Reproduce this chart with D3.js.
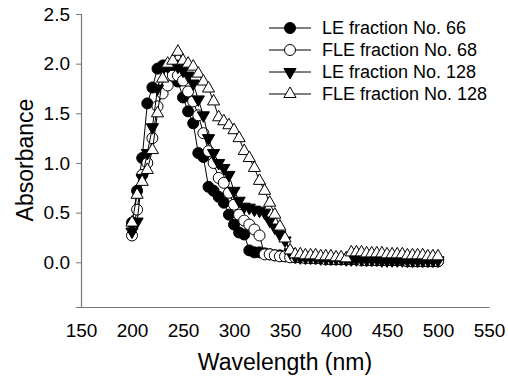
<!DOCTYPE html>
<html>
<head>
<meta charset="utf-8">
<script src="https://cdn.jsdelivr.net/npm/d3@7"></script>
<style>
	body { margin: 0; background: #fff; }
	text { font-family: "Liberation Sans", Arial, sans-serif; fill: #000; }
</style>
</head>
<body>
<div id="chart"></div>
<script>
var wavelength = [200,205,210,215,220,225,230,235,240,245,250,255,260,265,270,275,280,285,290,295,
	300,305,310,315,320,325,330,335,340,345,350,355,360,365,370,375,380,385,390,395,
	400,405,410,415,420,425,430,435,440,445,450,455,460,465,470,475,480,485,490,495,500];

var le66 = [0.40,0.72,1.05,1.60,1.76,1.95,1.98,1.97,1.92,1.82,1.66,1.52,1.40,1.10,1.06,0.76,0.72,0.66,0.60,0.48,
	0.38,0.30,0.28,0.12,0.10,0.10,0.09,0.08,0.07,0.07,0.06,0.06,0.05,0.05,0.05,0.05,0.04,0.04,0.04,0.04,
	0.03,0.03,0.03,0.03,0.03,0.03,0.02,0.02,0.02,0.02,0.02,0.02,0.02,0.02,0.01,0.01,0.01,0.01,0.01,0.01,0.01];

var fle68 = [0.27,0.53,0.88,1.00,1.25,1.57,1.70,1.78,1.88,1.88,1.83,1.72,1.62,1.48,1.30,1.12,1.00,0.85,0.80,0.70,
	0.58,0.48,0.42,0.38,0.33,0.27,0.08,0.08,0.07,0.06,0.06,0.05,0.05,0.05,0.04,0.04,0.04,0.04,0.03,0.03,
	0.03,0.03,0.03,0.03,0.03,0.02,0.02,0.02,0.02,0.02,0.02,0.02,0.02,0.02,0.01,0.01,0.01,0.01,0.01,0.01,0.01];

var le128 = [0.31,0.41,0.85,1.10,1.36,1.75,1.95,2.00,2.00,1.97,1.93,1.88,1.80,1.64,1.48,1.25,1.10,1.00,0.95,0.88,
	0.72,0.62,0.56,0.55,0.53,0.52,0.50,0.42,0.35,0.28,0.22,0.10,0.06,0.05,0.05,0.05,0.05,0.04,0.04,0.04,
	0.04,0.04,0.03,0.03,0.03,0.03,0.03,0.03,0.03,0.02,0.02,0.02,0.02,0.02,0.02,0.02,0.02,0.02,0.02,0.02,0.02];

var fle128 = [0.40,0.68,0.81,0.93,1.13,1.50,1.85,2.00,2.03,2.12,2.03,2.00,1.97,1.90,1.82,1.75,1.62,1.46,1.42,1.38,
	1.33,1.25,1.12,1.05,0.95,0.82,0.72,0.60,0.48,0.36,0.24,0.12,0.08,0.08,0.07,0.07,0.07,0.06,0.06,0.06,
	0.05,0.05,0.04,0.10,0.10,0.10,0.09,0.09,0.09,0.09,0.08,0.08,0.08,0.08,0.07,0.07,0.07,0.07,0.06,0.06,0.06];

var seriesNames = ["LE fraction No. 66", "FLE fraction No. 68", "LE fraction No. 128", "FLE fraction No. 128"];
var seriesValues = [le66, fle68, le128, fle128];
var xTicks = [150,200,250,300,350,400,450,500,550];
var yTicks = [0,0.5,1.0,1.5,2.0,2.5];

var markers = [
	{type: "circle", fill: "#000"},
	{type: "circle", fill: "#fff"},
	{type: "down", fill: "#000"},
	{type: "up", fill: "#fff"}
];

var svg = d3.select("#chart")
	.append("svg")
	.attr("width", 508)
	.attr("height", 379);

var x = d3.scaleLinear().domain([150, 550]).range([81, 489]);
var y = d3.scaleLinear().domain([-0.45, 2.5]).range([307, 14]);

// axes
var xAxis = svg.append("g")
	.attr("transform", "translate(0,307)")
	.call(d3.axisBottom(x).tickValues(xTicks).tickSize(0).tickFormat(d3.format("d")));

xAxis.selectAll("text")
	.attr("y", 30)
	.attr("dy", 0)
	.style("font-size", "19px");

var yAxis = svg.append("g")
	.attr("transform", "translate(81,0)")
	.call(d3.axisLeft(y).tickValues(yTicks).tickSize(5).tickPadding(6).tickFormat(d3.format(".1f")));

yAxis.selectAll("text").style("font-size", "19px");

svg.selectAll(".domain").attr("stroke", "#777").attr("stroke-width", 1.2);
svg.selectAll(".tick line").attr("stroke", "#777");
svg.selectAll(".tick text").attr("font-family", null);

svg.append("text")
	.text("Wavelength (nm)")
	.attr("x", 285)
	.attr("y", 370)
	.attr("text-anchor", "middle")
	.style("font-size", "23px");

svg.append("text")
	.text("Absorbance")
	.attr("transform", "translate(33,160) rotate(-90)")
	.attr("text-anchor", "middle")
	.style("font-size", "23px");

function drawMarker(g, m) {
	if (m.type == "circle") {
		g.append("circle")
			.attr("r", 5.5)
			.attr("fill", m.fill)
			.attr("stroke", "#000")
			.attr("stroke-width", 1);
	} else {
		g.append("path")
			.attr("d", d3.symbol().type(d3.symbolTriangle).size(64))
			.attr("transform", m.type == "down" ? "rotate(180)" : null)
			.attr("fill", m.fill)
			.attr("stroke", "#000")
			.attr("stroke-width", 1);
	}
}

var line = d3.line()
	.x(function(d){ return x(d[0]); })
	.y(function(d){ return y(d[1]); });

seriesValues.forEach(function(vals, s){
	var pts = wavelength.map(function(w, i){ return [w, vals[i]]; });

	svg.append("path")
		.datum(pts)
		.attr("d", line)
		.attr("fill", "none")
		.attr("stroke", "#000")
		.attr("stroke-width", 1);

	svg.selectAll(".pt" + s)
		.data(pts).enter()
		.append("g")
		.attr("class", "pt" + s)
		.attr("transform", function(d){ return "translate(" + x(d[0]) + "," + y(d[1]) + ")"; })
		.each(function(){ drawMarker(d3.select(this), markers[s]); });
});

// legend
var legend = svg.selectAll(".legend")
	.data(seriesNames).enter()
	.append("g")
	.attr("class", "legend")
	.attr("transform", function(d, i){ return "translate(0," + (28 + i * 22) + ")"; });

legend.append("line")
	.attr("x1", 269)
	.attr("x2", 311)
	.attr("stroke", "#000")
	.attr("stroke-width", 1);

legend.append("g")
	.attr("transform", "translate(290,0)")
	.each(function(d, i){ drawMarker(d3.select(this), markers[i]); });

legend.append("text")
	.text(function(d){ return d; })
	.attr("x", 322)
	.attr("dy", "0.35em")
	.style("font-size", "18px");
</script>
</body>
</html>
